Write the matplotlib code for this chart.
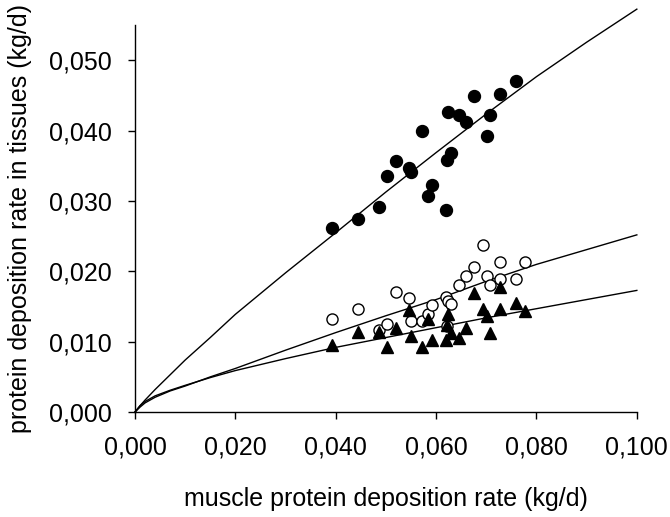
import numpy as np
import matplotlib.pyplot as plt

plt.rcParams['font.family'] = ['Liberation Sans', 'DejaVu Sans']

# muscle protein deposition rate (kg/d) vs deposition in tissues (kg/d)
x_filled = [0.0392, 0.0445, 0.0486, 0.0502, 0.0521, 0.0545, 0.0549, 0.0571,
            0.0583, 0.0592, 0.0620, 0.0621, 0.0629, 0.0624, 0.0646, 0.0659,
            0.0675, 0.0702, 0.0708, 0.0727, 0.0759]
y_filled = [0.0262, 0.0275, 0.0291, 0.0336, 0.0357, 0.0347, 0.0341, 0.0400,
            0.0307, 0.0323, 0.0287, 0.0358, 0.0369, 0.0427, 0.0422, 0.0413,
            0.0449, 0.0393, 0.0422, 0.0453, 0.0471]

x_open = [0.0392, 0.0445, 0.0486, 0.0502, 0.0521, 0.0545, 0.0549, 0.0571,
          0.0583, 0.0592, 0.0620, 0.0624, 0.0629, 0.0621, 0.0646, 0.0659,
          0.0675, 0.0693, 0.0702, 0.0708, 0.0727, 0.0727, 0.0759, 0.0778]
y_open = [0.0133, 0.0147, 0.0116, 0.0125, 0.0171, 0.0162, 0.0129, 0.0130,
          0.0140, 0.0152, 0.0163, 0.0158, 0.0153, 0.0122, 0.0180, 0.0193,
          0.0207, 0.0237, 0.0193, 0.0180, 0.0214, 0.0189, 0.0189, 0.0214]

x_tri = [0.0392, 0.0445, 0.0486, 0.0502, 0.0521, 0.0545, 0.0549, 0.0571,
         0.0583, 0.0592, 0.0620, 0.0624, 0.0629, 0.0621, 0.0646, 0.0659,
         0.0675, 0.0693, 0.0702, 0.0708, 0.0727, 0.0727, 0.0759, 0.0778]
y_tri = [0.0095, 0.0114, 0.0114, 0.0093, 0.0120, 0.0145, 0.0108, 0.0093,
         0.0133, 0.0103, 0.0103, 0.0140, 0.0112, 0.0124, 0.0106, 0.0120,
         0.0170, 0.0146, 0.0137, 0.0113, 0.0146, 0.0178, 0.0155, 0.0144]

# fitted curves
x_fit = [0.0, 0.001, 0.002, 0.004, 0.007, 0.01, 0.015, 0.02, 0.03, 0.04,
         0.05, 0.06, 0.07, 0.08, 0.09, 0.1]
y_fit_filled = [0.0, 0.0009, 0.0017, 0.0032, 0.0053, 0.0074, 0.0106, 0.0139,
                0.0198, 0.0255, 0.0313, 0.0369, 0.0424, 0.0477, 0.0526, 0.0573]
y_fit_open = [0.0, 0.0007, 0.0013, 0.0021, 0.0030, 0.0037, 0.0050, 0.0062,
              0.0088, 0.0113, 0.0137, 0.0160, 0.0186, 0.0210, 0.0231, 0.0252]
y_fit_tri = [0.0, 0.0009, 0.0015, 0.0023, 0.0031, 0.0038, 0.0049, 0.0059,
             0.0076, 0.0092, 0.0106, 0.0120, 0.0134, 0.0147, 0.0160, 0.0173]

xticks = [0.0, 0.02, 0.04, 0.06, 0.08, 0.1]
yticks = [0.0, 0.01, 0.02, 0.03, 0.04, 0.05]

fig = plt.figure(figsize=(6.7, 5.17), dpi=100)
ax = fig.add_axes([0.2015, 0.203, 0.749, 0.748])

for yf in (y_fit_filled, y_fit_open, y_fit_tri):
    ax.plot(x_fit, yf, color='black', lw=1.0, clip_on=False, zorder=2)

ax.plot(x_filled, y_filled, 'o', color='black', ms=8.6, zorder=3, clip_on=False)
ax.plot(x_open, y_open, 'o', mfc='white', mec='black', mew=1.0, ms=8.0,
        zorder=3, clip_on=False)
ax.plot(x_tri, y_tri, '^', color='black', ms=8.0, zorder=4, clip_on=False)

ax.set_xlim(0, 0.1)
ax.set_ylim(0, 0.055)
ax.set_xticks(xticks)
ax.set_yticks(yticks)
ax.set_xticklabels([f'{v:.3f}'.replace('.', ',') for v in xticks])
ax.set_yticklabels([f'{v:.3f}'.replace('.', ',') for v in yticks])

for s in ('top', 'right'):
    ax.spines[s].set_visible(False)
for s in ('left', 'bottom'):
    ax.spines[s].set_linewidth(1.0)

ax.tick_params(axis='x', direction='out', length=5, width=1, pad=12,
               labelsize=18)
ax.tick_params(axis='y', direction='out', length=5, width=1, pad=12,
               labelsize=18)

ax.set_xlabel('muscle protein deposition rate (kg/d)', fontsize=18,
              labelpad=20)
ax.set_ylabel('protein deposition rate in tissues (kg/d)', fontsize=18,
              labelpad=12)

fig.savefig('out.png', dpi=100)
